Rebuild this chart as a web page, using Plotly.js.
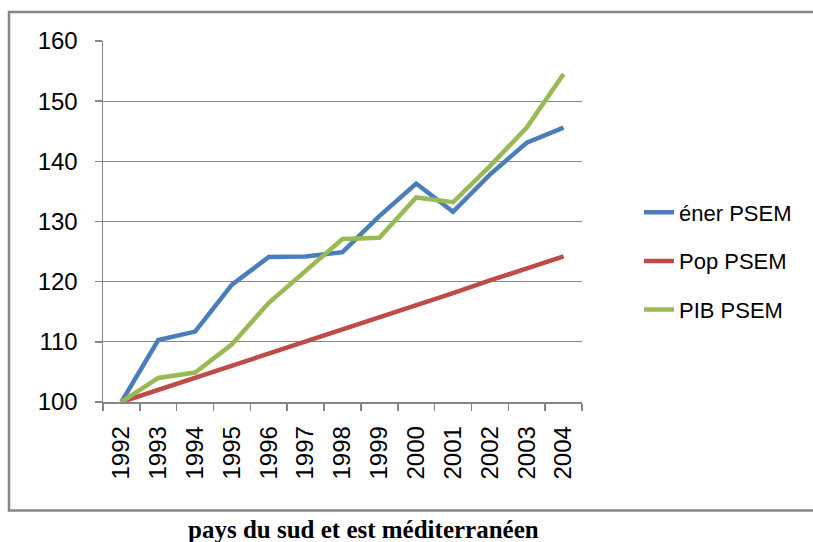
<!DOCTYPE html>
<html>
<head>
<meta charset="utf-8">
<script src="https://cdn.plot.ly/plotly-3.0.1.min.js"></script>
<style>html,body{margin:0;padding:0;background:#fff;}#chart{width:813px;height:542px;}</style>
</head>
<body>
<div id="chart"></div>
<script>
const years = ["1992","1993","1994","1995","1996","1997","1998","1999","2000","2001","2002","2003","2004"];
const enerPSEM = [100, 110.3, 111.7, 119.5, 124.1, 124.2, 124.9, 130.9, 136.3, 131.6, 137.8, 143.1, 145.6];
const popPSEM  = [100, 102.0, 104.0, 106.0, 108.1, 110.1, 112.1, 114.0, 116.0, 118.1, 120.2, 122.2, 124.2];
const pibPSEM  = [100, 104.0, 104.9, 109.6, 116.5, 121.8, 127.1, 127.3, 134.0, 133.2, 139.2, 145.6, 154.5];
const seriesNames = ["éner PSEM", "Pop PSEM", "PIB PSEM"];
const caption = "pays du sud et est méditerranéen";

const colors = ["#4A7EBB", "#BE4B48", "#98B954"];
const allSeries = [enerPSEM, popPSEM, pibPSEM];

const traces = allSeries.map((vals, i) => ({
  type: "scatter",
  mode: "lines",
  x: years,
  y: vals,
  name: seriesNames[i],
  legendgroup: "g" + i,
  line: {color: colors[i], width: 4.5},
  hoverinfo: "skip"
}));

const L = 103, R = 582, T = 41, B = 402, W = 813, H = 542;
const px = v => (v - L) / (R - L);
const py = v => (B - v) / (B - T);

const layout = {
  width: W, height: H,
  margin: {l: L, r: W - R, t: T, b: H - B, pad: 0},
  paper_bgcolor: "#ffffff",
  plot_bgcolor: "#ffffff",
  font: {family: "Liberation Sans, Arial, sans-serif", color: "#000000"},
  showlegend: true,
  legend: {
    x: px(639), xanchor: "left",
    y: py(261), yanchor: "middle",
    font: {size: 22, family: "Liberation Sans, Arial, sans-serif", color: "#000"},
    tracegroupgap: 17,
    bgcolor: "rgba(0,0,0,0)"
  },
  xaxis: {
    type: "category",
    range: [-0.5, 12.5],
    tickson: "boundaries",
    ticks: "outside", ticklen: 7, tickwidth: 1.5, tickcolor: "#868686",
    showline: true, linecolor: "#868686", linewidth: 1.5,
    showgrid: false, zeroline: false,
    tickangle: -90,
    tickfont: {size: 24, family: "Liberation Sans, Arial, sans-serif", color: "#000"},
    ticklabelstandoff: 13,
    fixedrange: true
  },
  yaxis: {
    range: [100, 160],
    tickvals: [100, 110, 120, 130, 140, 150, 160],
    ticks: "outside", ticklen: 7, tickwidth: 1.5, tickcolor: "#868686",
    showline: true, linecolor: "#868686", linewidth: 1.5,
    showgrid: true, gridcolor: "#868686", gridwidth: 1.3,
    zeroline: false,
    tickfont: {size: 24, family: "Liberation Sans, Arial, sans-serif", color: "#000"},
    ticklabelstandoff: 12,
    fixedrange: true
  },
  shapes: [{
    type: "rect", xref: "paper", yref: "paper",
    x0: px(9), x1: px(840), y0: py(510.5), y1: py(12),
    line: {color: "#868686", width: 2.5},
    fillcolor: "rgba(0,0,0,0)",
    layer: "below"
  }],
  annotations: [{
    xref: "paper", yref: "paper",
    x: px(363), y: py(529), xanchor: "center", yanchor: "middle",
    text: "<b>" + caption + "</b>",
    showarrow: false,
    font: {family: "Liberation Serif, Times New Roman, serif", size: 25, color: "#000"}
  }]
};

Plotly.newPlot("chart", traces, layout, {displayModeBar: false, staticPlot: true});
</script>
</body>
</html>
